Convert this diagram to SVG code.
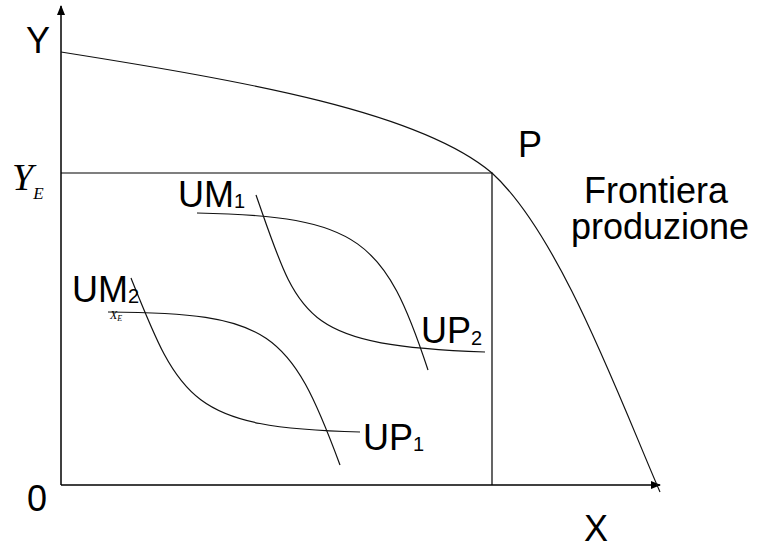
<svg xmlns="http://www.w3.org/2000/svg" width="760" height="548" viewBox="0 0 760 548">
<defs>
<marker id="arr" markerWidth="10" markerHeight="8" refX="9" refY="4" orient="auto" markerUnits="userSpaceOnUse">
<path d="M0,0 L10,4 L0,8 Z" fill="#000"/>
</marker>
<style>
.ax{stroke:#000;stroke-width:1.5;fill:none}
.ln{stroke:#000;stroke-width:1.2;fill:none}
.cv{stroke:#111;stroke-width:1.2;fill:none}
.lb{font-family:"Liberation Sans",Arial,sans-serif;font-size:36px;fill:#000}
.sb{font-size:20px}
.it{font-family:"Liberation Serif","Times New Roman",serif;font-style:italic;fill:#000}
</style>
</defs>
<rect width="760" height="548" fill="#fff"/>
<g id="connectors">
<path class="ax" d="M61,485 L61,6" marker-end="url(#arr)"/>
<path class="ax" d="M61,485 L660,485" marker-end="url(#arr)"/>
<path class="ln" d="M61,173 L492,173 L492,485"/>
</g>
<g id="frontier">
<path class="cv" d="M61,52 C250,82 420,112 492,173 C560,235 620,400 660,492"/>
</g>
<g id="curve-UM1">
<path class="cv" d="M197,213 C360,216 385,240 428,370"/>
</g>
<g id="curve-UP2">
<path class="cv" d="M256,195 C300,320 300,345 485,352"/>
</g>
<g id="curve-UM2">
<path class="cv" d="M108,312 C270,313 290,330 340,465"/>
</g>
<g id="curve-UP1">
<path class="cv" d="M131,278 C180,400 190,428 360,432"/>
</g>
<g id="labels">
<text class="lb" x="26" y="53">Y</text>
<text class="it" x="12" y="190" font-size="38">Y<tspan font-size="17" dy="9">E</tspan></text>
<text class="lb" x="27" y="511">0</text>
<text class="lb" x="584" y="541">X</text>
<text class="lb" x="518" y="157">P</text>
<text class="lb" x="584" y="203">Frontiera</text>
<text class="lb" x="571" y="239">produzione</text>
<text class="lb" x="178" y="207">UM<tspan class="sb" dy="1">1</tspan></text>
<text class="lb" x="72" y="302">UM<tspan class="sb" dy="1">2</tspan></text>
<text class="it" x="110" y="319" font-size="12">X<tspan font-size="8" dy="2">E</tspan></text>
<text class="lb" x="421" y="343">UP<tspan class="sb" dy="2">2</tspan></text>
<text class="lb" x="363" y="450">UP<tspan class="sb" dy="1">1</tspan></text>
</g>
</svg>
